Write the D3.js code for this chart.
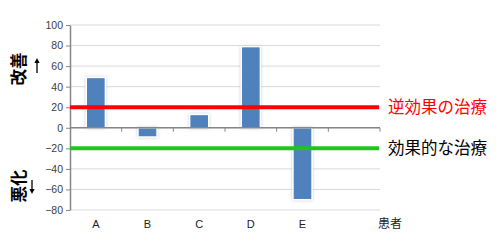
<!DOCTYPE html>
<html>
<head>
<meta charset="utf-8">
<script src="https://cdn.jsdelivr.net/npm/d3@7"></script>
<style>
  body { margin: 0; background: #fff; }
  svg text { font-family: Arial, "Liberation Sans", sans-serif; }
  .jp { font-family: "Noto Sans CJK JP", sans-serif; }
</style>
</head>
<body>
<div id="chart"></div>
<script>
// Data
const patients = ["A", "B", "C", "D", "E", ""];
const scores = [49, -9, 13, 79, -70, null];
const yTicks = [-80, -60, -40, -20, 0, 20, 40, 60, 80, 100];
const refLines = [
    { value: 20, label: "逆効果の治療", color: "#ff0000", textColor: "#ff0000" },
    { value: -20, label: "効果的な治療", color: "#22c31e", textColor: "#000000" }
];

const width = 500, height = 243;
const margin = { left: 70, right: 120, top: 25, bottom: 33 };

const svg = d3.select("#chart").append("svg")
    .attr("width", width)
    .attr("height", height);

const defs = svg.append("defs");
const shadow = defs.append("filter").attr("id", "glow")
    .attr("x", "-50%").attr("y", "-50%").attr("width", "200%").attr("height", "200%");
shadow.append("feDropShadow")
    .attr("dx", 0).attr("dy", 0).attr("stdDeviation", 1.5)
    .attr("flood-color", "#9aa7b8").attr("flood-opacity", 0.6);

// Scales
const xScale = d3.scaleBand()
    .domain(patients)
    .range([margin.left, width - margin.right]);

const yScale = d3.scaleLinear()
    .domain([-80, 100])
    .range([height - margin.bottom, margin.top]);

// Gridlines
svg.append("g")
    .selectAll("line")
    .data(yTicks)
    .join("line")
        .attr("x1", margin.left)
        .attr("x2", width - margin.right)
        .attr("y1", d => yScale(d))
        .attr("y2", d => yScale(d))
        .attr("stroke", "#d9d9d9")
        .attr("stroke-width", 1);

// Bars
const barW = xScale.bandwidth() * 0.37;
svg.append("g")
    .selectAll("rect")
    .data(patients.map((p, i) => ({ p, v: scores[i] })).filter(d => d.v !== null))
    .join("rect")
        .attr("x", d => xScale(d.p) + xScale.bandwidth() / 2 - barW / 2)
        .attr("y", d => yScale(Math.max(0, d.v)))
        .attr("width", barW)
        .attr("height", d => Math.abs(yScale(d.v) - yScale(0)))
        .attr("fill", "#4f81bd")
        .attr("stroke", "#ffffff")
        .attr("stroke-width", 1.5)
        .attr("filter", "url(#glow)");

// Y axis
const yAxis = svg.append("g")
    .attr("transform", `translate(${margin.left},0)`)
    .call(d3.axisLeft(yScale).tickValues(yTicks).tickSize(4).tickSizeOuter(0));
yAxis.select(".domain").attr("stroke", "#868686").attr("stroke-width", 1.5);
yAxis.selectAll(".tick line").attr("stroke", "#868686");
yAxis.selectAll(".tick text")
    .attr("font-size", 10.5)
    .attr("fill", "#404040")
    .attr("x", -7);

// X axis at zero
const xAxis = svg.append("g")
    .attr("transform", `translate(0,${yScale(0)})`);
xAxis.append("line")
    .attr("x1", margin.left).attr("x2", width - margin.right)
    .attr("stroke", "#868686").attr("stroke-width", 1.5);
xAxis.selectAll(".xtick")
    .data(patients)
    .join("line")
        .attr("class", "xtick")
        .attr("x1", d => xScale(d) + xScale.bandwidth())
        .attr("x2", d => xScale(d) + xScale.bandwidth())
        .attr("y1", 0).attr("y2", 4)
        .attr("stroke", "#868686");

// Category labels under the plot
svg.append("g")
    .selectAll("text")
    .data(patients)
    .join("text")
        .attr("x", d => xScale(d) + xScale.bandwidth() / 2)
        .attr("y", 228)
        .attr("text-anchor", "middle")
        .attr("font-size", 11)
        .attr("fill", "#222")
        .text(d => d);

svg.append("text")
    .attr("class", "jp")
    .attr("x", 390)
    .attr("y", 228)
    .attr("text-anchor", "middle")
    .attr("font-size", 12)
    .attr("fill", "#222")
    .text("患者");

// Reference lines
refLines.forEach(r => {
    svg.append("line")
        .attr("x1", margin.left)
        .attr("x2", 379)
        .attr("y1", yScale(r.value))
        .attr("y2", yScale(r.value))
        .attr("stroke", r.color)
        .attr("stroke-width", 4);
    svg.append("text")
        .attr("class", "jp")
        .attr("x", 388)
        .attr("y", yScale(r.value) + 6)
        .attr("font-size", 16.5)
        .attr("fill", r.textColor)
        .text(r.label);
});

// Left direction labels
const sideLabel = (txt, cx, cy, size) => {
    svg.append("text")
        .attr("class", "jp")
        .attr("transform", `translate(${cx},${cy}) rotate(-90)`)
        .attr("text-anchor", "middle")
        .attr("dominant-baseline", "central")
        .attr("font-size", size)
        .attr("font-weight", "bold")
        .attr("fill", "#000")
        .text(txt);
};
sideLabel("改善", 18, 69, 16.5);
sideLabel("悪化", 18, 186, 16.5);

// Thin arrows beside the direction labels
const arrow = (x, yFrom, yTo) => {
    const dir = yTo < yFrom ? -1 : 1;
    svg.append("line")
        .attr("x1", x).attr("x2", x)
        .attr("y1", yFrom).attr("y2", yTo - dir * 2)
        .attr("stroke", "#000").attr("stroke-width", 1.3);
    svg.append("path")
        .attr("d", `M${x - 2.6},${yTo - dir * 5} L${x},${yTo} L${x + 2.6},${yTo - dir * 5} Z`)
        .attr("fill", "#000");
};
arrow(37, 73, 58);
arrow(32, 180, 194);
</script>
</body>
</html>
